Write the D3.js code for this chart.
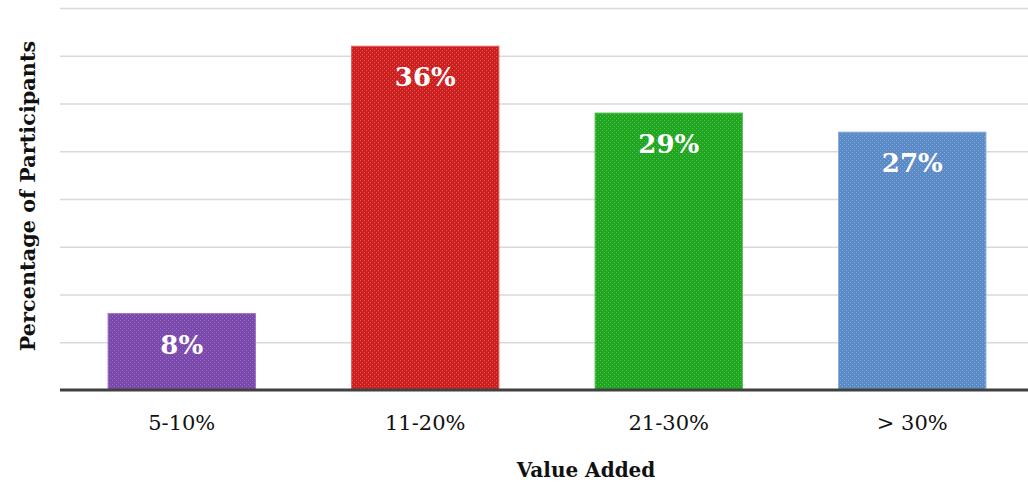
<!DOCTYPE html>
<html>
<head>
<meta charset="utf-8">
<script src="https://cdn.jsdelivr.net/npm/d3@7"></script>
<style>
  html, body { margin: 0; padding: 0; background: #fff; }
  svg { display: block; }
</style>
</head>
<body>
<svg id="chart" width="1028" height="484"></svg>
<script>
// Share of participants by value-added bracket
const categories = ["5-10%", "11-20%", "21-30%", "> 30%"];
const values = [8, 36, 29, 27];
const barColors = ["#7b48ab", "#cc1f1f", "#20a520", "#5b8bc7"];
const dotColors = ["#9a70c2", "#e35a5a", "#55c255", "#86abd8"];
const gridTicks = [0, 5, 10, 15, 20, 25, 30, 35, 40];

const W = 1028, H = 484;
const margin = { left: 60, top: 8, bottom: 94 };
const plotBottom = H - margin.bottom; // 390

const svg = d3.select("#chart");
const serif = "'DejaVu Serif', 'Liberation Serif', serif";

const x = d3.scaleBand()
  .domain(categories)
  .range([margin.left, margin.left + 974])
  .paddingInner(0.395)
  .paddingOuter(0.1975);

const y = d3.scaleLinear()
  .domain([0, 40])
  .range([plotBottom, margin.top]);

// dotted fill textures for the bars
const defs = svg.append("defs");
barColors.forEach((c, i) => {
  const p = defs.append("pattern")
    .attr("id", "tex" + i)
    .attr("patternUnits", "userSpaceOnUse")
    .attr("width", 4).attr("height", 4);
  p.append("rect").attr("width", 4).attr("height", 4).attr("fill", c);
  p.append("rect").attr("x", 0).attr("y", 0).attr("width", 1).attr("height", 1).attr("fill", dotColors[i]);
  p.append("rect").attr("x", 2).attr("y", 2).attr("width", 1).attr("height", 1).attr("fill", dotColors[i]);
  p.append("rect").attr("x", 1).attr("y", 1).attr("width", 1).attr("height", 1).attr("fill", c).attr("opacity", 0.6);
});

// horizontal gridlines
const gridAxis = d3.axisLeft(y)
  .tickValues(gridTicks.filter(t => t > 0))
  .tickSize(-(W - margin.left))
  .tickFormat("");
const gridG = svg.append("g")
  .attr("transform", `translate(${margin.left},0)`)
  .call(gridAxis);
gridG.select(".domain").remove();
gridG.selectAll(".tick line")
  .attr("stroke", "#d9d9d9")
  .attr("stroke-width", 1.5);

// bars
svg.append("g").selectAll("rect")
  .data(values)
  .join("rect")
  .attr("x", (d, i) => x(categories[i]))
  .attr("y", d => y(d))
  .attr("width", x.bandwidth())
  .attr("height", d => y(0) - y(d))
  .attr("fill", (d, i) => `url(#tex${i})`)
  .attr("stroke", (d, i) => dotColors[i])
  .attr("stroke-width", 1);

// value labels inside the bars
svg.append("g").selectAll("text")
  .data(values)
  .join("text")
  .attr("x", (d, i) => x(categories[i]) + x.bandwidth() / 2)
  .attr("y", d => y(d) + 40)
  .attr("text-anchor", "middle")
  .attr("font-family", serif)
  .attr("font-weight", "bold")
  .attr("font-size", 26)
  .attr("fill", "#ffffff")
  .text(d => d + "%");

// category axis
const xAxis = d3.axisBottom(x).tickSize(0).tickPadding(25);
const xg = svg.append("g")
  .attr("transform", `translate(0,${plotBottom})`)
  .call(xAxis);
xg.select(".domain").remove();
xg.selectAll(".tick text")
  .attr("font-family", serif)
  .attr("font-size", 21)
  .attr("fill", "#111");

// baseline
svg.append("line")
  .attr("x1", margin.left).attr("x2", W)
  .attr("y1", y(0)).attr("y2", y(0))
  .attr("stroke", "#404040")
  .attr("stroke-width", 3);

// axis titles
svg.append("text")
  .attr("x", (margin.left + W) / 2 + 42)
  .attr("y", 477)
  .attr("text-anchor", "middle")
  .attr("font-family", serif)
  .attr("font-weight", "bold")
  .attr("font-size", 20)
  .attr("fill", "#111")
  .text("Value Added");

svg.append("text")
  .attr("transform", `translate(35,196) rotate(-90)`)
  .attr("text-anchor", "middle")
  .attr("font-family", serif)
  .attr("font-weight", "bold")
  .attr("font-size", 20.8)
  .attr("fill", "#111")
  .text("Percentage of Participants");
</script>
</body>
</html>
